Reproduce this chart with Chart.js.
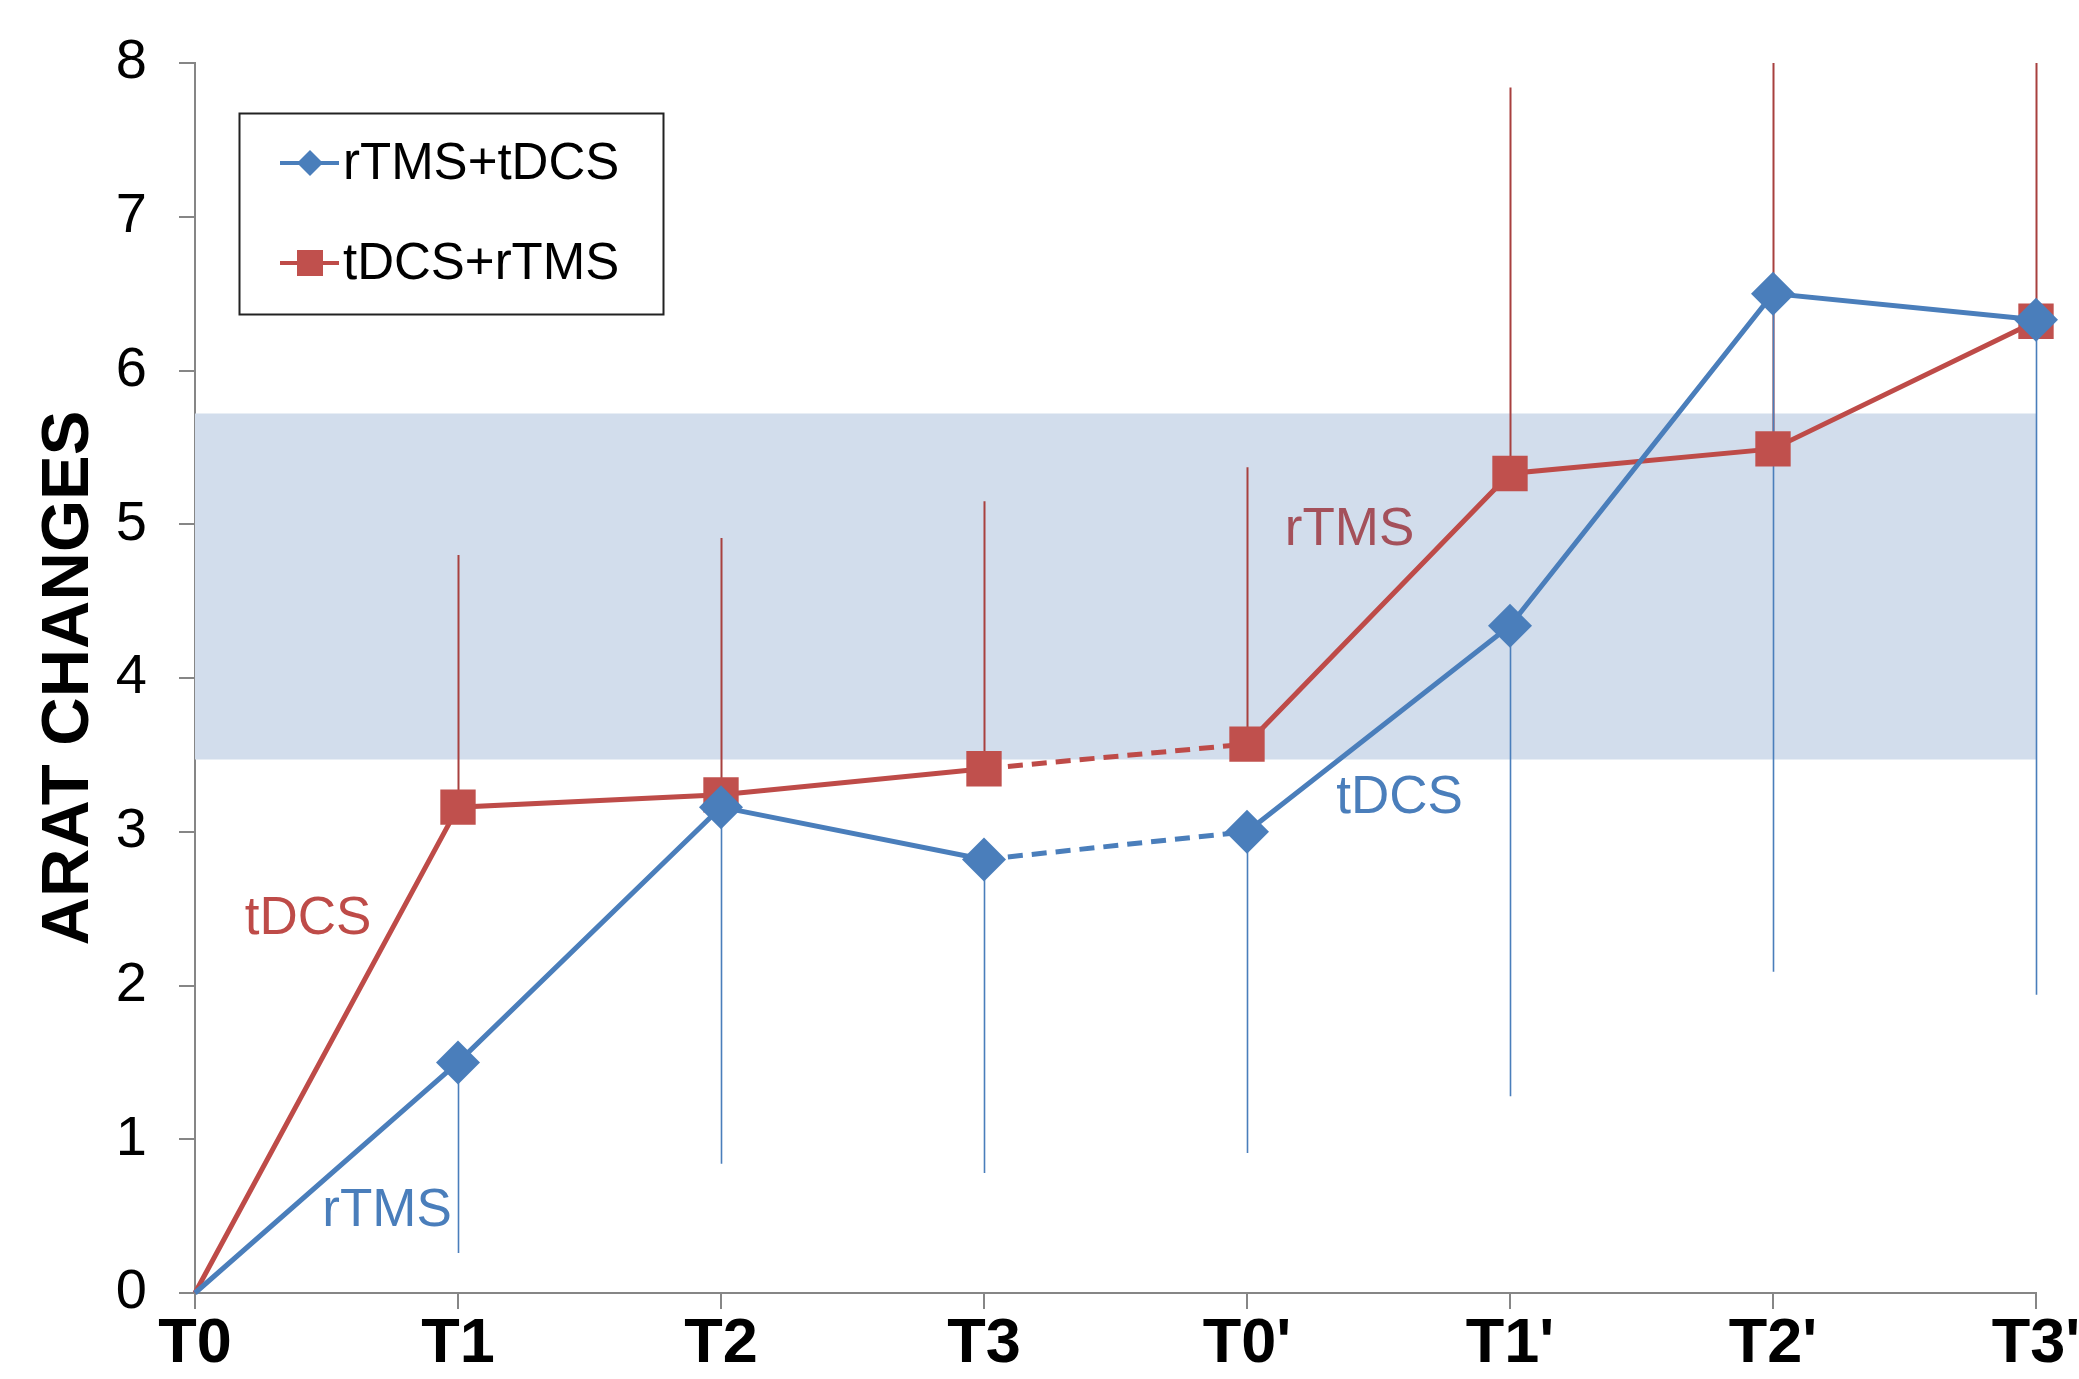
<!DOCTYPE html>
<html>
<head>
<meta charset="utf-8">
<title>ARAT changes</title>
<script src="https://cdn.jsdelivr.net/npm/chart.js@4.4.0/dist/chart.umd.min.js"></script>
<style>
html, body { margin: 0; padding: 0; background: #fff; overflow: hidden; }
</style>
</head>
<body>
<canvas id="aratCanvas" width="2079" height="1379"></canvas>
<script>
// data
var timePoints = ["T0", "T1", "T2", "T3", "T0'", "T1'", "T2'", "T3'"];
var rtmsTdcs = [0, 1.50, 3.16, 2.82, 3.00, 4.34, 6.50, 6.33];
var tdcsRtms = [0, 3.16, 3.24, 3.41, 3.57, 5.33, 5.49, 6.32];
var rtmsTdcsLow = [null, 0.26, 0.84, 0.78, 0.91, 1.28, 2.09, 1.94];
var tdcsRtmsHigh = [null, 4.80, 4.91, 5.15, 5.37, 7.84, 8, 8];
var bandLow = [3.47, 3.47, 3.47, 3.47, 3.47, 3.47, 3.47, 3.47];
var bandHigh = [5.72, 5.72, 5.72, 5.72, 5.72, 5.72, 5.72, 5.72];
var seriesNames = ["rTMS+tDCS", "tDCS+rTMS"];
var phaseText = ["tDCS", "rTMS", "rTMS", "tDCS"];
var phaseX = [0.43, 0.73, 4.39, 4.58];
var phaseY = [2.43, 0.53, 4.96, 3.22];

var BLUE = '#4A7EBB';
var RED = '#BE4B48';
var RED_MARK = '#C0504D';
var phaseColor = [RED, BLUE, '#A4505A', BLUE];

var FONT = "Arial, 'Liberation Sans', sans-serif";

function dashGap(ctx) {
    return ctx.p0DataIndex === 3 ? [15, 9] : undefined;
}

var errorBars = {
    id: 'errorBars',
    beforeDatasetsDraw: function (chart) {
        var ctx = chart.ctx;
        var x = chart.scales.x, y = chart.scales.y;
        ctx.save();
        ctx.lineWidth = 2;
        ctx.strokeStyle = '#A8403F';
        for (var i = 0; i < timePoints.length; i++) {
            if (tdcsRtmsHigh[i] === null) continue;
            var px = Math.round(x.getPixelForValue(i)) + 0.5;
            ctx.beginPath();
            ctx.moveTo(px, y.getPixelForValue(tdcsRtms[i]));
            ctx.lineTo(px, y.getPixelForValue(tdcsRtmsHigh[i]));
            ctx.stroke();
        }
        ctx.strokeStyle = BLUE;
        ctx.lineWidth = 1.6;
        for (var j = 0; j < timePoints.length; j++) {
            if (rtmsTdcsLow[j] === null) continue;
            var qx = Math.round(x.getPixelForValue(j)) + 0.5;
            ctx.beginPath();
            ctx.moveTo(qx, y.getPixelForValue(rtmsTdcs[j]));
            ctx.lineTo(qx, y.getPixelForValue(rtmsTdcsLow[j]));
            ctx.stroke();
        }
        ctx.restore();
    }
};

var phaseLabels = {
    id: 'phaseLabels',
    afterDatasetsDraw: function (chart) {
        var ctx = chart.ctx;
        var x = chart.scales.x, y = chart.scales.y;
        ctx.save();
        ctx.font = '53px ' + FONT;
        ctx.textAlign = 'center';
        ctx.textBaseline = 'middle';
        for (var i = 0; i < phaseText.length; i++) {
            ctx.fillStyle = phaseColor[i];
            ctx.fillText(phaseText[i], x.getPixelForValue(phaseX[i]), y.getPixelForValue(phaseY[i]));
        }
        ctx.restore();
    }
};

var boxLegend = {
    id: 'boxLegend',
    afterDraw: function (chart) {
        var ctx = chart.ctx;
        var a = chart.chartArea;
        var left = a.left + 44, top = a.top + 50, w = 424, h = 201;
        ctx.save();
        ctx.fillStyle = '#fff';
        ctx.fillRect(left, top, w, h);
        ctx.strokeStyle = '#222';
        ctx.lineWidth = 2;
        ctx.strokeRect(left + 0.5, top + 0.5, w, h);
        ctx.font = '51px ' + FONT;
        ctx.textBaseline = 'middle';
        ctx.textAlign = 'left';
        var rows = [top + 50, top + 150];
        var colors = [BLUE, RED];
        for (var i = 0; i < 2; i++) {
            var cy = rows[i];
            ctx.strokeStyle = colors[i];
            ctx.lineWidth = 4;
            ctx.beginPath();
            ctx.moveTo(left + 41, cy);
            ctx.lineTo(left + 100, cy);
            ctx.stroke();
            ctx.fillStyle = i === 0 ? BLUE : RED_MARK;
            ctx.beginPath();
            if (i === 0) {
                ctx.moveTo(left + 71, cy - 13);
                ctx.lineTo(left + 84, cy);
                ctx.lineTo(left + 71, cy + 13);
                ctx.lineTo(left + 58, cy);
            } else {
                ctx.rect(left + 58, cy - 13, 26, 26);
            }
            ctx.fill();
            ctx.fillStyle = '#000';
            ctx.fillText(seriesNames[i], left + 104, cy + 2);
        }
        ctx.restore();
    }
};

var chartdata = {
    labels: timePoints,
    datasets: [
        {
            label: seriesNames[0],
            data: rtmsTdcs,
            borderColor: BLUE,
            backgroundColor: BLUE,
            borderWidth: 5,
            pointStyle: 'rectRot',
            pointRadius: [0, 22, 22, 22, 22, 22, 22, 22],
            pointBorderWidth: 0,
            pointBackgroundColor: BLUE,
            segment: { borderDash: dashGap },
            clip: false,
            fill: false
        },
        {
            label: seriesNames[1],
            data: tdcsRtms,
            borderColor: RED,
            backgroundColor: RED_MARK,
            borderWidth: 5,
            pointStyle: 'rect',
            pointRadius: [0, 25, 25, 25, 25, 25, 25, 25],
            pointBorderWidth: 0,
            pointBackgroundColor: RED_MARK,
            segment: { borderDash: dashGap },
            clip: false,
            fill: false
        },
        {
            label: 'band low',
            data: bandLow,
            borderWidth: 0,
            borderColor: 'rgba(0,0,0,0)',
            pointRadius: 0,
            fill: false
        },
        {
            label: 'band high',
            data: bandHigh,
            borderWidth: 0,
            borderColor: 'rgba(0,0,0,0)',
            backgroundColor: '#D2DDEC',
            pointRadius: 0,
            fill: '-1'
        }
    ]
};

var graphTarget = document.getElementById('aratCanvas');

var lineGraph = new Chart(graphTarget, {
    type: 'line',
    data: chartdata,
    options: {
        responsive: false,
        animation: false,
        layout: { padding: { top: 63, bottom: 0, left: 0, right: 43 } },
        plugins: {
            legend: { display: false },
            tooltip: { enabled: false },
            filler: { drawTime: 'beforeDatasetsDraw' }
        },
        scales: {
            x: {
                type: 'category',
                offset: false,
                afterFit: function (scale) {
                    scale.height = 86;
                    scale.paddingRight = 0;
                },
                border: { color: '#868686', width: 2 },
                grid: { drawOnChartArea: false, drawTicks: true, tickLength: 16, color: '#868686', lineWidth: 2 },
                ticks: {
                    color: '#000',
                    padding: 4,
                    maxRotation: 0,
                    font: { family: FONT, size: 63, weight: 'bold', lineHeight: 1 }
                }
            },
            y: {
                min: 0,
                max: 8,
                afterFit: function (scale) { scale.width = 195; },
                border: { color: '#868686', width: 2 },
                grid: { drawOnChartArea: false, drawTicks: true, tickLength: 16, color: '#868686', lineWidth: 2 },
                ticks: {
                    stepSize: 1,
                    color: '#000',
                    padding: 32,
                    font: { family: FONT, size: 56, lineHeight: 1 }
                },
                title: {
                    display: true,
                    text: 'ARAT CHANGES',
                    color: '#000',
                    padding: { top: 36, bottom: 0 },
                    font: { family: FONT, size: 67, weight: 'bold', lineHeight: 1 }
                }
            }
        }
    },
    plugins: [errorBars, phaseLabels, boxLegend]
});
</script>
</body>
</html>
